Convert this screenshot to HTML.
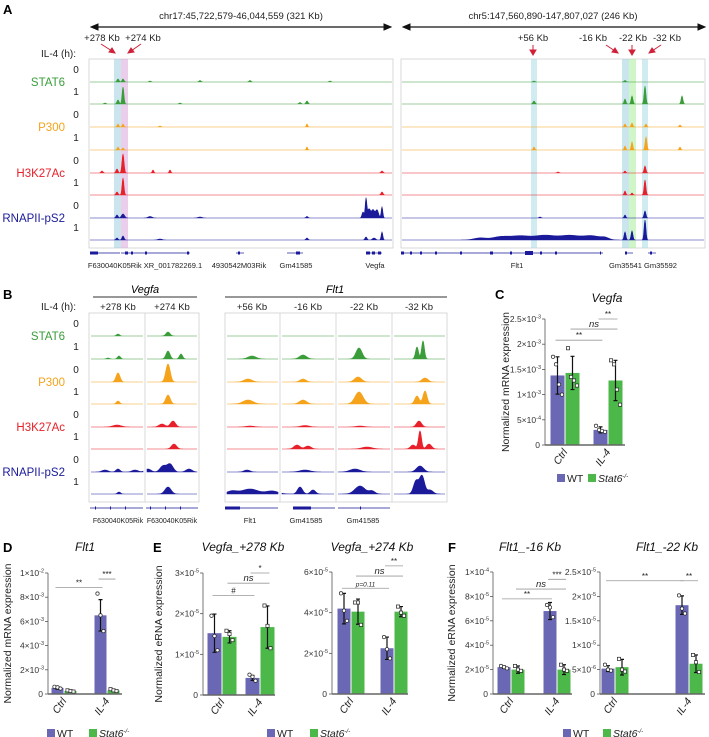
<!DOCTYPE html>
<html><head><meta charset="utf-8">
<style>
html,body{margin:0;padding:0;background:#fff;}
svg{display:block;font-family:"Liberation Sans",Arial,sans-serif;}
</style></head>
<body>
<svg id="fig" width="709" height="737" viewBox="0 0 709 737" xmlns="http://www.w3.org/2000/svg">
<g id="static">
  <text x="3" y="14" font-size="13" font-weight="bold">A</text>
  <text x="241" y="19" font-size="9.5" text-anchor="middle" fill="#222">chr17:45,722,579-46,044,559 (321 Kb)</text>
  <text x="553" y="19" font-size="9.5" text-anchor="middle" fill="#222">chr5:147,560,890-147,807,027 (246 Kb)</text>
  <g stroke="#111" fill="#111">
    <line x1="96" y1="27" x2="386" y2="27" stroke-width="1.2"/>
    <polygon points="91,27 98,24 98,30"/><polygon points="391,27 384,24 384,30"/>
  </g>
  <g stroke="#111" fill="#111">
    <line x1="408" y1="27" x2="700" y2="27" stroke-width="1.2"/>
    <polygon points="403,27 410,24 410,30"/><polygon points="705,27 698,24 698,30"/>
  </g>
  <g font-size="9.5" fill="#222" text-anchor="middle">
    <text x="102" y="41">+278 Kb</text>
    <text x="143" y="41">+274 Kb</text>
    <text x="533" y="41">+56 Kb</text>
    <text x="593" y="41">-16 Kb</text>
    <text x="633" y="41">-22 Kb</text>
    <text x="667" y="41">-32 Kb</text>
  </g>
  <g stroke="#d0213a" fill="#d0213a" stroke-width="1">
    <line x1="101" y1="44" x2="112" y2="51"/><polygon points="115,53 109,52 112,48"/>
    <line x1="141" y1="44" x2="131" y2="51"/><polygon points="128,53 131,48 134,52"/>
    <line x1="533" y1="45" x2="533" y2="51"/><polygon points="533,55 530,50 536,50"/>
    <line x1="606" y1="45" x2="615" y2="51"/><polygon points="618,53 612,52 615,48"/>
    <line x1="632" y1="45" x2="632" y2="51"/><polygon points="632,55 629,50 635,50"/>
    <line x1="661" y1="45" x2="652" y2="51"/><polygon points="649,53 652,48 655,52"/>
  </g>
  <text x="76" y="57" font-size="10" text-anchor="end" fill="#222">IL-4 (h):</text>

  <text x="3" y="299" font-size="13" font-weight="bold">B</text>
  <text x="145" y="293" font-size="11" font-style="italic" text-anchor="middle">Vegfa</text>
  <line x1="93" y1="297" x2="197" y2="297" stroke="#777" stroke-width="1.5"/>
  <text x="335" y="293" font-size="11" font-style="italic" text-anchor="middle">Flt1</text>
  <line x1="225" y1="297" x2="447" y2="297" stroke="#777" stroke-width="1.5"/>
  <text x="76" y="310" font-size="10" text-anchor="end" fill="#222">IL-4 (h):</text>
  <g font-size="9.5" fill="#222" text-anchor="middle">
    <text x="118" y="310">+278 Kb</text>
    <text x="172" y="310">+274 Kb</text>
    <text x="252" y="310">+56 Kb</text>
    <text x="308" y="310">-16 Kb</text>
    <text x="364" y="310">-22 Kb</text>
    <text x="419" y="310">-32 Kb</text>
  </g>

  <text x="495" y="299" font-size="13" font-weight="bold">C</text>
  <text x="3" y="552" font-size="13" font-weight="bold">D</text>
  <text x="153" y="552" font-size="13" font-weight="bold">E</text>
  <text x="448" y="552" font-size="13" font-weight="bold">F</text>
</g>
<g id="tracks"></g>
<g id="charts"></g>
</svg>
<script>
// ---------------- Genome track data ----------------
const trackNames = ["STAT6","P300","H3K27Ac","RNAPII-pS2"];
const trackColors = ["#3a9d3a","#f5a31a","#e8202a","#1a1a9a"];
const trackTimes = ["0","1"];
// peaks: [center x, height, width]
const aLeftPeaks = [
  [[118,3,1],[123,3,1],[200,1.5,1],[250,1.5,1],[150,1,1],[330,1,1]],
  [[118,4,1],[123,17,0.9],[307,3,1],[105,1,1],[180,1,1],[300,1.5,1]],
  [[118,3,0.8],[123,3,0.8],[307,3,0.7],[160,1,1]],
  [[118,3,0.8],[123,2,0.8],[307,3,0.7]],
  [[102,2,1],[117,4,1],[123,19,1],[153,3,0.8],[170,3,0.8],[382,2,1]],
  [[117,3,1],[123,17,0.9],[382,3,1]],
  [[117,3,1],[123,4,1.5],[363,6,1],[366,19,0.8],[369,9,1.5],[373,8,1.5],[377,8,1.5],[382,11,0.8],[307,1.5,1],[150,1.5,2],[200,1,2]],
  [[117,2,1],[123,4,1],[307,2,1],[366,3,1],[374,2,1.5],[382,8,0.8],[160,1,2]]
];
const aRightPeaks = [
  [[534,1,1],[625,1.5,1]],
  [[534,3,1],[625,5,0.9],[632,8,0.9],[645,18,0.9],[682,8,0.9]],
  [[625,3,0.8],[632,4,0.8],[646,3,0.8],[680,2,0.8]],
  [[534,3,0.8],[625,4,0.8],[632,8,0.8],[646,13,0.9],[680,3,0.8]],
  [[558,1,1],[625,2,0.8],[645,7,0.9]],
  [[625,4,0.8],[632,2,0.8],[645,15,0.9]],
  [[625,3,0.8],[645,7,0.9],[540,1,1]],
  [[480,2,6],[500,3,8],[520,4,10],[545,4.5,10],[570,4.5,10],[592,4,8],[605,2,4],[625,8,0.9],[632,9,0.9],[645,20,0.9]]
];
const bPeaks = [
  [[118,2,1.5],[168,4,2]],
  [[108,1,1.5],[119,3,1.5],[168,8,2],[181,5,1.6],[252,3,4],[303,4,3.5],[359,11,3],[417,12,1.5],[423,18,1.4]],
  [[118,9,2],[168,18,2.2],[248,3,4],[303,3,3],[358,5,3.5],[425,4,3]],
  [[118,3,1.6],[168,9,2.2],[248,4,5],[303,4,3.5],[359,12,4],[417,8,2.2],[425,13,2]],
  [[117,2,4],[162,3,3],[173,6,2.5],[250,1,4],[305,1.5,4],[360,1,4],[419,6,2.5]],
  [[174,5,2.5],[297,4,3],[308,3,3],[367,2,5],[413,4,2.5],[420,18,1.5],[429,5,2.5]],
  [[105,2,3],[118,3,2],[135,2,3],[148,3,3],[163,6,3],[170,8,3],[189,3,3],[247,2,3],[305,2,5],[355,3,5],[420,6,3.5]],
  [[119,2,1.5],[168,7,3],[232,3,5],[250,5,8],[272,3,6],[300,7,2.5],[313,4,2.5],[360,8,5],[372,3,3],[416,13,2.5],[422,18,2.5],[430,4,3]]
];

// ---------------- Bar chart data ----------------
const groupLabels = ["Ctrl","IL-4"];
// C: Vegfa mRNA (units 1e-3)
const cTicks = [0,0.5,1,1.5,2,2.5];
const cTickLabels = [["0",""],["5×10","-4"],["1×10","-3"],["1.5×10","-3"],["2×10","-3"],["2.5×10","-3"]];
const cWT = [1.38,0.30];
const cKO = [1.43,1.28];
const cWTErr = [0.37,0.06];
const cKOErr = [0.33,0.40];
const cWTPts = [[1.75,1.6,1.2,1.0],[0.38,0.3,0.28,0.26]];
const cKOPts = [[1.92,1.35,1.28,1.18],[1.68,1.6,1.1,0.8]];
const cSig = [[0,2,2.08,"**"],[1,3,2.3,"ns"],[2,3,2.5,"**"]];
// D: Flt1 mRNA (units 1e-3)
const dTicks = [0,2,4,6,8,10];
const dTickLabels = [["0",""],["2×10","-3"],["4×10","-3"],["6×10","-3"],["8×10","-3"],["1×10","-2"]];
const dWT = [0.5,6.5];
const dKO = [0.25,0.3];
const dWTErr = [0.1,1.3];
const dKOErr = [0.05,0.1];
const dWTPts = [[0.6,0.55,0.45],[8.3,6.5,5.2]];
const dKOPts = [[0.3,0.25,0.2],[0.4,0.3,0.25]];
const dSig = [[0,2,8.8,"**"],[2,3,9.5,"***"]];
// E1: Vegfa_+278 (units 1e-5)
const e1Ticks = [0,1,2,3];
const e1TickLabels = [["0",""],["1×10","-5"],["2×10","-5"],["3×10","-5"]];
const e1WT = [1.52,0.42];
const e1KO = [1.43,1.67];
const e1WTErr = [0.47,0.06];
const e1KOErr = [0.15,0.52];
const e1WTPts = [[1.95,1.45,1.1],[0.5,0.45,0.35]];
const e1KOPts = [[1.58,1.5,1.35],[2.2,1.7,1.15]];
const e1Sig = [[0,2,2.45,"#"],[1,3,2.75,"ns"],[2,3,3.0,"*"]];
// E2: Vegfa_+274 (units 1e-5)
const e2Ticks = [0,2,4,6];
const e2TickLabels = [["0",""],["2×10","-5"],["4×10","-5"],["6×10","-5"]];
const e2WT = [4.2,2.25];
const e2KO = [4.05,4.05];
const e2WTErr = [0.75,0.55];
const e2KOErr = [0.62,0.25];
const e2WTPts = [[4.95,4.1,3.6],[2.8,2.2,1.75]];
const e2KOPts = [[4.5,4.5,3.4],[4.3,4.0,3.85]];
const e2Sig = [[0,2,5.2,"p=0.11"],[1,3,5.8,"ns"],[2,3,6.3,"**"]];
// F1: Flt1_-16 (units 1e-5)
const f1Ticks = [0,2,4,6,8,10];
const f1TickLabels = [["0",""],["2×10","-5"],["4×10","-5"],["6×10","-5"],["8×10","-5"],["1×10","-4"]];
const f1WT = [2.2,6.8];
const f1KO = [2.0,2.0];
const f1WTErr = [0.1,0.7];
const f1KOErr = [0.3,0.4];
const f1WTPts = [[2.3,2.2,2.1],[7.3,7.1,6.3]];
const f1KOPts = [[2.3,2.0,1.9],[2.4,2.0,1.9]];
const f1Sig = [[0,2,7.8,"**"],[1,3,8.6,"ns"],[2,3,9.4,"***"]];
// F2: Flt1_-22 (units 1e-6)
const f2Ticks = [0,5,10,15,20,25];
const f2TickLabels = [["0",""],["5×10","-6"],["1×10","-5"],["1.5×10","-5"],["2×10","-5"],["2.5×10","-5"]];
const f2WT = [5.2,18.2];
const f2KO = [5.5,6.2];
const f2WTErr = [0.6,1.9];
const f2KOErr = [1.6,1.8];
const f2WTPts = [[6.0,5.0,4.8],[20.2,17.5,16.5]];
const f2KOPts = [[7.2,5.0,4.6],[8.0,6.5,4.5]];
const f2Sig = [[0,2,23.2,"**"],[2,3,23.2,"**"]];

const NS = "http://www.w3.org/2000/svg";
function mk(tag, attrs, parent){
  const el = document.createElementNS(NS, tag);
  for (const k in attrs) el.setAttribute(k, attrs[k]);
  if (parent) parent.appendChild(el);
  return el;
}
const tracksG = document.getElementById("tracks");
const chartsG = document.getElementById("charts");

function peakPath(peaks, x0, x1, base){
  let d = "M"+x0+","+base;
  for (let x = x0; x <= x1; x += 0.5){
    let h = 0;
    for (const p of peaks){ const dx = (x-p[0])/p[2]; h += p[1]*Math.exp(-0.5*dx*dx); }
    d += " L"+x.toFixed(1)+","+(base-Math.min(h,21)).toFixed(2);
  }
  return d + " L"+x1+","+base+" Z";
}

function drawTrackBlock(cfg){
  for (const bx of cfg.boxes){
    const r = mk("rect", {x:bx[0], y:cfg.top, width:bx[1]-bx[0], height:cfg.bottom-cfg.top, fill:"none", stroke:"#cfcfcf", "stroke-width":0.8}, tracksG);
    
    
  }
  for (const s of cfg.seps){
    const l = mk("line", {x1:s, x2:s, y1:cfg.top, y2:cfg.bottom, stroke:"#cfcfcf", "stroke-width":0.8}, tracksG);
    
    
  }
  for (const hb of (cfg.bands||[])){
    const r = mk("rect", {x:hb[0], y:cfg.top, width:hb[1]-hb[0], height:cfg.bottom-cfg.top, fill:hb[2], opacity:0.55}, tracksG);
    
    
  }
  for (let i = 0; i < 8; i++){
    const base = cfg.bases[i];
    const col = trackColors[Math.floor(i/2)];
    for (const bx of cfg.boxes){
      const segs = cfg.segs || [[bx[0]+1, bx[1]-1]];
      for (const sg of segs){
        if (sg[0] < bx[0] || sg[1] > bx[1]) continue;
        const pk = cfg.peaks[i].filter(p => p[0] >= sg[0]-10 && p[0] <= sg[1]+10);
        const p = mk("path", {d:peakPath(pk, sg[0], sg[1], base), fill:col, stroke:col, "stroke-width":0.6}, tracksG);
        
        
      }
    }
    if (cfg.labels){
      const t = mk("text", {x:76, y:base-9, "font-size":10, "text-anchor":"middle", fill:"#222"}, tracksG);
      t.textContent = trackTimes[i%2];
      
      
    }
  }
  if (cfg.labels){
    for (let k = 0; k < 4; k++){
      const t = mk("text", {x:65, y:cfg.bases[2*k]+4, "font-size":11.5, "text-anchor":"end", fill:trackColors[k]}, tracksG);
      t.textContent = trackNames[k];
      
      
    }
  }
}

const aBases = [82,104,127,150,173,195,218,240];
drawTrackBlock({name:"panel-a-left", boxes:[[89,393]], seps:[], top:59, bottom:248, bases:aBases, peaks:aLeftPeaks, labels:true,
  bands:[[114,121,"#9ecfe0"],[121,128,"#dba6dd"]]});
drawTrackBlock({name:"panel-a-right", boxes:[[401,705]], seps:[], top:59, bottom:248, bases:aBases, peaks:aRightPeaks, labels:false,
  bands:[[531,537,"#a9dde3"],[622,629,"#9ecfe0"],[629,636,"#a8ec9a"],[642,648,"#a9dde3"]]});
const bBases = [336,359,382,404,427,449,472,494];
drawTrackBlock({name:"panel-b", boxes:[[89,199],[225,447]], seps:[145,280,336,392], top:313, bottom:502, bases:bBases, peaks:bPeaks, labels:true,
  segs:[[91,143],[147,197],[227,278],[282,334],[338,390],[394,445]]});

function geneRow(y, x0, x1, exons, name){
  const g = mk("g", {}, tracksG);
  
  
  mk("line", {x1:x0, x2:x1, y1:y, y2:y, stroke:"#1a1a9a", "stroke-width":0.7}, g);
  for (const e of exons) mk("rect", {x:e[0], y:y-e[2]/2, width:e[1], height:e[2], fill:"#1a1a9a"}, g);
}
geneRow(253, 90, 120, [[90,8,3],[96,2,3]], "gene-f630040k05rik");
geneRow(253, 121, 190, [[125,3,3],[131,2,3],[145,2,3],[187,2,3]], "gene-xr001782269");
geneRow(253, 236, 244, [[238,2,3]], "gene-4930542m03rik");
geneRow(253, 287, 303, [[296,4,3]], "gene-gm41585");
geneRow(253, 366, 382, [[366,4,3],[372,3,3],[378,3,3]], "gene-vegfa");
geneRow(253, 401, 603, [[401,3,3],[410,2,3],[420,2,3],[435,2,3],[460,2,3],[490,3,3],[510,2,3],[525,8,4],[540,2,3],[555,2,3],[600,1,3]], "gene-flt1");
geneRow(253, 625, 633, [[625,2,3]], "gene-gm35541");
geneRow(253, 648, 656, [[650,2,3]], "gene-gm35592");
geneRow(508, 90, 143, [[95,1,3],[110,1,3],[125,1,3]], "gene-f630040k05rik-b1");
geneRow(508, 146, 198, [[150,1,3],[165,1,3],[180,1,3]], "gene-f630040k05rik-b2");
geneRow(508, 225, 278, [[225,15,3]], "gene-flt1-b");
geneRow(508, 293, 335, [[293,18,3]], "gene-gm41585-b1");
geneRow(508, 338, 390, [[360,1,3]], "gene-gm41585-b2");

function gText(x, y, s, name, size){
  const t = mk("text", {x:x, y:y, "font-size":size||7.5, "text-anchor":"middle", fill:"#222"}, tracksG);
  t.textContent = s;
  
  
}
gText(145, 268, "F630040K05Rik  XR_001782269.1", "gene-label-f630040k05rik-xr");
gText(239, 268, "4930542M03Rik", "gene-label-4930542m03rik");
gText(296, 268, "Gm41585", "gene-label-gm41585");
gText(375, 268, "Vegfa", "gene-label-vegfa");
gText(517, 268, "Flt1", "gene-label-flt1");
gText(643, 268, "Gm35541 Gm35592", "gene-label-gm35541-gm35592");
gText(118, 523, "F630040K05Rik", "gene-label-b1", 7);
gText(172, 523, "F630040K05Rik", "gene-label-b2", 7);
gText(250, 523, "Flt1", "gene-label-b3");
gText(306, 523, "Gm41585", "gene-label-b4");
gText(363, 523, "Gm41585", "gene-label-b5");

// ---------------- Bar charts ----------------
const WTC = "#6a68b5", KOC = "#4cb84a";
function barChart(c){
  const g = mk("g", {}, chartsG);
  
  
  const ymax = c.ticks[c.ticks.length-1];
  const y = v => c.base - v/ymax*(c.base-c.top);
  const barX = i => c.axis + c.groups[Math.floor(i/2)] + (i%2===0 ? -c.bw-0.5 : 0.5);
  const tt = mk("text", {x:c.titleX, y:(c.titleY||551), "font-size":12, "font-style":"italic", "text-anchor":"middle", fill:"#111"}, g);
  tt.textContent = c.title;
  
  
  const ya = mk("line", {x1:c.axis, x2:c.axis, y1:c.top, y2:c.base, stroke:"#555", "stroke-width":0.8}, g);
  
  
  c.ticks.forEach((tv, i) => {
    const ty = y(tv);
    const tk = mk("line", {x1:c.axis-3, x2:c.axis, y1:ty, y2:ty, stroke:"#555", "stroke-width":0.8}, g);
    
    
    const t = mk("text", {x:c.axis-4, y:ty+3, "font-size":8.5, "text-anchor":"end", fill:"#333"}, g);
    
    
    const lab = c.tickLabels[i];
    t.appendChild(document.createTextNode(lab[0]));
    if (lab[1]){
      const sp = mk("tspan", {dy:-3.5, "font-size":5.5}, t);
      sp.textContent = lab[1];
    } else { t.setAttribute("x", c.axis-5); }
  });
  if (c.ylabel){
    const yl = mk("text", {x:0, y:0, "font-size":10.5, "text-anchor":"middle", fill:"#222", transform:"translate("+c.ylx+","+((c.top+c.base)/2)+") rotate(-90)"}, g);
    yl.textContent = c.ylabel;
    
    
  }
  const vals = [c.wt[0], c.ko[0], c.wt[1], c.ko[1]];
  const errs = [c.wtErr[0], c.koErr[0], c.wtErr[1], c.koErr[1]];
  const pts = [c.wtPts[0], c.koPts[0], c.wtPts[1], c.koPts[1]];
  vals.forEach((v, i) => {
    const bx = barX(i);
    const r = mk("rect", {x:bx, y:y(v), width:c.bw, height:c.base-y(v), fill:(i%2===0?WTC:KOC)}, g);
    
    
    const cx = bx + c.bw/2;
    const eb = mk("path", {d:"M"+cx+","+y(v+errs[i])+" V"+y(Math.max(0,v-errs[i]))+" M"+(cx-2)+","+y(v+errs[i])+" h4 M"+(cx-2)+","+y(Math.max(0,v-errs[i]))+" h4", stroke:"#111", "stroke-width":1.2, fill:"none"}, g);
    
    
    pts[i].forEach((pv, k) => {
      const px = cx + (k - (pts[i].length-1)/2) * 3;
      let m;
      if (i%2===0) m = mk("circle", {cx:px, cy:y(pv), r:1.7, fill:"#fff", stroke:"#222", "stroke-width":0.7}, g);
      else m = mk("rect", {x:px-1.6, y:y(pv)-1.6, width:3.2, height:3.2, fill:"#fff", stroke:"#222", "stroke-width":0.7}, g);
      
      
    });
  });
  const xa = mk("line", {x1:c.axis, x2:c.end, y1:c.base, y2:c.base, stroke:"#666", "stroke-width":1.6}, g);
  
  
  groupLabels.forEach((lb, gi) => {
    const gx = c.axis + c.groups[gi];
    const t = mk("text", {x:0, y:0, "font-size":10.5, "font-style":"italic", "text-anchor":"end", fill:"#222", transform:"translate("+(gx+3)+","+(c.base+7)+") rotate(-55)"}, g);
    t.textContent = lb;
    
    
  });
  c.sig.forEach(s => {
    const x1 = barX(s[0]) + c.bw/2 - 2, x2 = barX(s[1]) + c.bw/2 + 2, sy = y(s[2]);
    const l = mk("line", {x1:x1, x2:x2, y1:sy, y2:sy, stroke:"#999", "stroke-width":0.8}, g);
    
    
    const isItal = s[3]==="ns" || s[3].startsWith("p");
    const t = mk("text", {x:(x1+x2)/2, y:sy-2, "font-size":(s[3].startsWith("p")?6.5:(isItal?9.5:8)), "font-style":(isItal?"italic":"normal"), "text-anchor":"middle", fill:"#222"}, g);
    t.textContent = s[3];
    
    
  });
}
function legend(x1, x2, y, name){
  const g = mk("g", {}, chartsG);
  
  
  mk("rect", {x:x1, y:y-4, width:8, height:8, fill:WTC}, g);
  const t1 = mk("text", {x:x1+10, y:y+4, "font-size":10.5, fill:"#222"}, g); t1.textContent = "WT";
  mk("rect", {x:x2, y:y-4, width:8, height:8, fill:KOC}, g);
  const t2 = mk("text", {x:x2+10, y:y+4, "font-size":10.5, "font-style":"italic", fill:"#222"}, g);
  t2.appendChild(document.createTextNode("Stat6"));
  const sp = mk("tspan", {dy:-4, "font-size":6}, t2); sp.textContent = "-/-";
}

barChart({name:"chart-c-vegfa", title:"Vegfa", titleX:607, titleY:302, axis:545, end:625, base:445, top:319, groups:[20,63], bw:14,
  ticks:cTicks, tickLabels:cTickLabels, wt:cWT, ko:cKO, wtErr:cWTErr, koErr:cKOErr, wtPts:cWTPts, koPts:cKOPts, sig:cSig,
  ylabel:"Normalized mRNA expression", ylx:509});
legend(557, 588, 478, "legend-c");

barChart({name:"chart-d-flt1", title:"Flt1", titleX:85, axis:48, end:122, base:694, top:573, groups:[16,59], bw:12,
  ticks:dTicks, tickLabels:dTickLabels, wt:dWT, ko:dKO, wtErr:dWTErr, koErr:dKOErr, wtPts:dWTPts, koPts:dKOPts, sig:dSig,
  ylabel:"Normalized mRNA expression", ylx:11});
legend(47, 89, 733, "legend-d");

barChart({name:"chart-e1-vegfa-278", title:"Vegfa_+278 Kb", titleX:243, axis:203, end:275, base:695, top:573, groups:[19,57], bw:14,
  ticks:e1Ticks, tickLabels:e1TickLabels, wt:e1WT, ko:e1KO, wtErr:e1WTErr, koErr:e1KOErr, wtPts:e1WTPts, koPts:e1KOPts, sig:e1Sig,
  ylabel:"Normalized eRNA expression", ylx:162});
barChart({name:"chart-e2-vegfa-274", title:"Vegfa_+274 Kb", titleX:372, axis:332, end:408, base:694, top:572, groups:[19,62], bw:13,
  ticks:e2Ticks, tickLabels:e2TickLabels, wt:e2WT, ko:e2KO, wtErr:e2WTErr, koErr:e2KOErr, wtPts:e2WTPts, koPts:e2KOPts, sig:e2Sig});
legend(267, 310, 733, "legend-e");

barChart({name:"chart-f1-flt1-16", title:"Flt1_-16 Kb", titleX:530, axis:493, end:572, base:694, top:572, groups:[18,64], bw:13,
  ticks:f1Ticks, tickLabels:f1TickLabels, wt:f1WT, ko:f1KO, wtErr:f1WTErr, koErr:f1KOErr, wtPts:f1WTPts, koPts:f1KOPts, sig:f1Sig,
  ylabel:"Normalized eRNA expression", ylx:455});
barChart({name:"chart-f2-flt1-22", title:"Flt1_-22 Kb", titleX:667, axis:600, end:705, base:694, top:572, groups:[15,89], bw:13,
  ticks:f2Ticks, tickLabels:f2TickLabels, wt:f2WT, ko:f2KO, wtErr:f2WTErr, koErr:f2KOErr, wtPts:f2WTPts, koPts:f2KOPts, sig:f2Sig});
legend(563, 603, 733, "legend-f");
</script>
</body></html>
